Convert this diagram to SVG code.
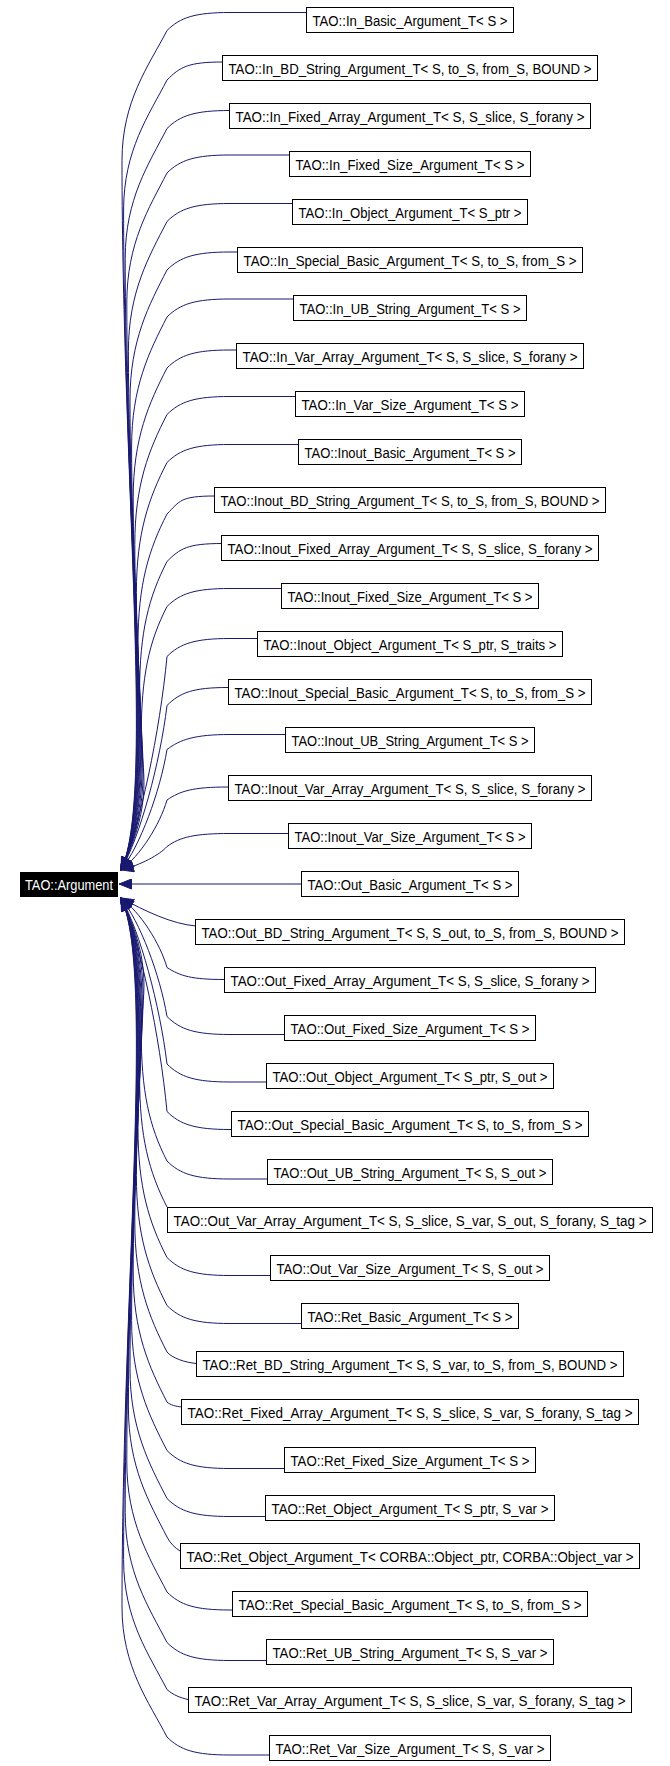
<svg xmlns="http://www.w3.org/2000/svg" width="670" height="1766" viewBox="0 0 670 1766">
<style>
.node rect{fill:#ffffff;stroke:#000000;stroke-width:1}
.node text{font-family:"Liberation Sans",Arial,sans-serif;font-size:14px;text-anchor:middle;fill:#000000}
.edge{fill:none;stroke:#191970;stroke-width:1}
</style>
<defs>
<marker id="arr" markerUnits="userSpaceOnUse" markerWidth="14" markerHeight="11" viewBox="0 0 14 11" refX="13" refY="5.5" orient="auto">
<path d="M0.5,0.5 L13,5.5 L0.5,10.5 z" fill="#191970" stroke="#191970"/>
</marker>
</defs>
<rect width="670" height="1766" fill="#ffffff"/>
<g id="edges" marker-end="url(#arr)">
<path class="edge" marker-end="url(#arr)" d="M307,12.5 L230,12.5 C195,12.5 180,17.5 167,30.5 c-18,35 -45,70 -45,130 C122,480 155,800 121,870"/>
<path class="edge" marker-end="url(#arr)" d="M223,62 C188,62 180,67 167,80 c-18,35 -43.4,70 -43.4,130 C123.6,505 155,800 121,870"/>
<path class="edge" marker-end="url(#arr)" d="M230,110.5 C195,110.5 180,115.5 167,128.5 c-18,35 -41.8,70 -41.8,130 C125.2,529 155,800 121,870"/>
<path class="edge" marker-end="url(#arr)" d="M290,155 L230,155 C195,155 180,160 167,173 c-18,35 -40.2,70 -40.2,130 C126.8,551.5 155,800 121,870"/>
<path class="edge" marker-end="url(#arr)" d="M292.5,203.5 L230,203.5 C195,203.5 180,208.5 167,221.5 c-18,35 -38.6,70 -38.6,130 C128.4,576 155,800 121,870"/>
<path class="edge" marker-end="url(#arr)" d="M238,252 L230,252 C195,252 180,257 167,270 c-18,35 -37,70 -37,130 C130,600 155,800 121,870"/>
<path class="edge" marker-end="url(#arr)" d="M294,299 L230,299 C195,299 180,304 167,317 c-18,35 -35.4,70 -35.4,130 C131.6,623.5 155,800 121,870"/>
<path class="edge" marker-end="url(#arr)" d="M236,350 L230,350 C195,350 180,355 167,368 c-18,35 -33.8,70 -33.8,130 C133.2,649 155,800 121,870"/>
<path class="edge" marker-end="url(#arr)" d="M296,396.5 L230,396.5 C195,396.5 180,401.5 167,414.5 c-18,35 -32.2,70 -32.2,130 C134.8,672 155,800 121,870"/>
<path class="edge" marker-end="url(#arr)" d="M299,444.5 L230,444.5 C195,444.5 180,449.5 167,462.5 c-18,35 -30.6,70 -30.6,130 C136.4,696 155,800 121,870"/>
<path class="edge" marker-end="url(#arr)" d="M215,496 C180,496 180,501 167,514 c-18,35 -29,70 -29,130 C138,722 155,800 121,870"/>
<path class="edge" marker-end="url(#arr)" d="M222.5,543.5 C187.5,543.5 180,548.5 167,561.5 c-18,35 -27.4,70 -27.4,130 C139.6,746 155,800 121,870"/>
<path class="edge" marker-end="url(#arr)" d="M282,588.5 L230,588.5 C195,588.5 180,593.5 167,606.5 c-18,35 -25.8,70 -25.8,130 C141.2,768 155,800 121,870"/>
<path class="edge" marker-end="url(#arr)" d="M258,638.5 L230,638.5 C195,638.5 180,643.5 167,656.5 C160,731 140,827 121,870"/>
<path class="edge" marker-end="url(#arr)" d="M228,687.5 C193,687.5 180,692.5 167,705.5 C160,763 140,837 121,870"/>
<path class="edge" marker-end="url(#arr)" d="M286,734.5 L230,734.5 C195,734.5 180,739.5 167,749.5 C160,792 140,846 121,870"/>
<path class="edge" marker-end="url(#arr)" d="M228,787 C193,787 180,791 167,800 C160,824.5 140,856 121,870"/>
<path class="edge" marker-end="url(#arr)" d="M288,833.5 L230,833.5 C195,833.5 180,837 167,846.5 C160,854.7 140,865.3 121,870"/>
<path class="edge" marker-end="url(#arr)" d="M302,884 L119,884"/>
<path class="edge" marker-end="url(#arr)" d="M196,926 C172,924 145,911 121,898"/>
<path class="edge" marker-end="url(#arr)" d="M224,979.5 C192,979.5 180,976 167,967.5 C160,943 140,912 121,898"/>
<path class="edge" marker-end="url(#arr)" d="M284,1034.5 L230,1034.5 C195,1034.5 180,1029.5 167,1016.5 C160,975 140,921.7 121,898"/>
<path class="edge" marker-end="url(#arr)" d="M267.5,1082 L230,1082 C195,1082 180,1077 167,1064 C160,1006 140,931 121,898"/>
<path class="edge" marker-end="url(#arr)" d="M232,1129.5 L230,1129.5 C195,1129.5 180,1124.5 167,1111.5 C160,1037 140,941 121,898"/>
<path class="edge" marker-end="url(#arr)" d="M267.5,1179 L230,1179 C195,1179 180,1174 167,1161 c-18,-35 -25.8,-70 -25.8,-130 C141.2,999.5 155,968 121,898"/>
<path class="edge" marker-end="url(#arr)" d="M167,1207 c-18,-35 -27.4,-70 -27.4,-130 C139.6,1022.5 155,968 121,898"/>
<path class="edge" marker-end="url(#arr)" d="M271.5,1275.5 L230,1275.5 C195,1275.5 180,1270.5 167,1257.5 c-18,-35 -29,-70 -29,-130 C138,1048 155,968 121,898"/>
<path class="edge" marker-end="url(#arr)" d="M302,1323.5 L230,1323.5 C195,1323.5 180,1318.5 167,1305.5 c-18,-35 -30.6,-70 -30.6,-130 C136.4,1072 155,968 121,898"/>
<path class="edge" marker-end="url(#arr)" d="M196.5,1363.5 C185,1362.5 172,1358 167,1352 c-18,-35 -32.2,-70 -32.2,-130 C134.8,1095 155,968 121,898"/>
<path class="edge" marker-end="url(#arr)" d="M182,1407 C176,1406.5 170,1405 167,1402 c-18,-35 -33.8,-70 -33.8,-130 C133.2,1120 155,968 121,898"/>
<path class="edge" marker-end="url(#arr)" d="M284,1468.5 L230,1468.5 C195,1468.5 180,1463.5 167,1450.5 c-18,-35 -35.4,-70 -35.4,-130 C131.6,1144 155,968 121,898"/>
<path class="edge" marker-end="url(#arr)" d="M266,1516.5 L230,1516.5 C195,1516.5 180,1511.5 167,1498.5 c-18,-35 -37,-70 -37,-130 C130,1168 155,968 121,898"/>
<path class="edge" marker-end="url(#arr)" d="M180,1551 C175,1548 170,1543 167,1537 c-18,-35 -38.6,-70 -38.6,-130 C128.4,1187.5 155,968 121,898"/>
<path class="edge" marker-end="url(#arr)" d="M232,1610 L230,1610 C195,1610 180,1605 167,1592 c-18,-35 -40.2,-70 -40.2,-130 C126.8,1215 155,968 121,898"/>
<path class="edge" marker-end="url(#arr)" d="M267,1660.5 L230,1660.5 C195,1660.5 180,1655.5 167,1642.5 c-18,-35 -41.8,-70 -41.8,-130 C125.2,1240 155,968 121,898"/>
<path class="edge" marker-end="url(#arr)" d="M188,1699.5 C181,1698 173,1695 167,1689.5 c-18,-35 -43.4,-70 -43.4,-130 C123.6,1264 155,968 121,898"/>
<path class="edge" marker-end="url(#arr)" d="M270,1755 L230,1755 C195,1755 180,1750 167,1737 c-18,-35 -45,-70 -45,-130 C122,1287.5 155,968 121,898"/>
</g>
<g id="argument">
<rect x="20.5" y="872.5" width="97" height="24" fill="#000000" stroke="#000000"/>
<text x="69" y="890" font-family="Liberation Sans, Arial, sans-serif" font-size="14" text-anchor="middle" fill="#ffffff" textLength="88" lengthAdjust="spacingAndGlyphs">TAO::Argument</text>
</g>
<g id="n0" class="node"><rect x="306.5" y="7.5" width="207" height="25"/><text x="410" y="26" textLength="195" lengthAdjust="spacingAndGlyphs">TAO::In_Basic_Argument_T&lt; S &gt;</text></g>
<g id="n1" class="node"><rect x="222.5" y="55.5" width="375" height="25"/><text x="410" y="74" textLength="363" lengthAdjust="spacingAndGlyphs">TAO::In_BD_String_Argument_T&lt; S, to_S, from_S, BOUND &gt;</text></g>
<g id="n2" class="node"><rect x="229.5" y="103.5" width="361" height="25"/><text x="410" y="122" textLength="349" lengthAdjust="spacingAndGlyphs">TAO::In_Fixed_Array_Argument_T&lt; S, S_slice, S_forany &gt;</text></g>
<g id="n3" class="node"><rect x="289.5" y="151.5" width="241" height="25"/><text x="410" y="170" textLength="229" lengthAdjust="spacingAndGlyphs">TAO::In_Fixed_Size_Argument_T&lt; S &gt;</text></g>
<g id="n4" class="node"><rect x="292.5" y="199.5" width="235" height="25"/><text x="410" y="218" textLength="223" lengthAdjust="spacingAndGlyphs">TAO::In_Object_Argument_T&lt; S_ptr &gt;</text></g>
<g id="n5" class="node"><rect x="237.5" y="247.5" width="345" height="25"/><text x="410" y="266" textLength="333" lengthAdjust="spacingAndGlyphs">TAO::In_Special_Basic_Argument_T&lt; S, to_S, from_S &gt;</text></g>
<g id="n6" class="node"><rect x="293.5" y="295.5" width="233" height="25"/><text x="410" y="314" textLength="221" lengthAdjust="spacingAndGlyphs">TAO::In_UB_String_Argument_T&lt; S &gt;</text></g>
<g id="n7" class="node"><rect x="236.5" y="343.5" width="347" height="25"/><text x="410" y="362" textLength="335" lengthAdjust="spacingAndGlyphs">TAO::In_Var_Array_Argument_T&lt; S, S_slice, S_forany &gt;</text></g>
<g id="n8" class="node"><rect x="295.5" y="391.5" width="229" height="25"/><text x="410" y="410" textLength="217" lengthAdjust="spacingAndGlyphs">TAO::In_Var_Size_Argument_T&lt; S &gt;</text></g>
<g id="n9" class="node"><rect x="298.5" y="439.5" width="223" height="25"/><text x="410" y="458" textLength="211" lengthAdjust="spacingAndGlyphs">TAO::Inout_Basic_Argument_T&lt; S &gt;</text></g>
<g id="n10" class="node"><rect x="214.5" y="487.5" width="391" height="25"/><text x="410" y="506" textLength="379" lengthAdjust="spacingAndGlyphs">TAO::Inout_BD_String_Argument_T&lt; S, to_S, from_S, BOUND &gt;</text></g>
<g id="n11" class="node"><rect x="221.5" y="535.5" width="377" height="25"/><text x="410" y="554" textLength="365" lengthAdjust="spacingAndGlyphs">TAO::Inout_Fixed_Array_Argument_T&lt; S, S_slice, S_forany &gt;</text></g>
<g id="n12" class="node"><rect x="281.5" y="583.5" width="257" height="25"/><text x="410" y="602" textLength="245" lengthAdjust="spacingAndGlyphs">TAO::Inout_Fixed_Size_Argument_T&lt; S &gt;</text></g>
<g id="n13" class="node"><rect x="257.5" y="631.5" width="305" height="25"/><text x="410" y="650" textLength="293" lengthAdjust="spacingAndGlyphs">TAO::Inout_Object_Argument_T&lt; S_ptr, S_traits &gt;</text></g>
<g id="n14" class="node"><rect x="228.5" y="679.5" width="363" height="25"/><text x="410" y="698" textLength="351" lengthAdjust="spacingAndGlyphs">TAO::Inout_Special_Basic_Argument_T&lt; S, to_S, from_S &gt;</text></g>
<g id="n15" class="node"><rect x="285.5" y="727.5" width="249" height="25"/><text x="410" y="746" textLength="237" lengthAdjust="spacingAndGlyphs">TAO::Inout_UB_String_Argument_T&lt; S &gt;</text></g>
<g id="n16" class="node"><rect x="228.5" y="775.5" width="363" height="25"/><text x="410" y="794" textLength="351" lengthAdjust="spacingAndGlyphs">TAO::Inout_Var_Array_Argument_T&lt; S, S_slice, S_forany &gt;</text></g>
<g id="n17" class="node"><rect x="288.5" y="823.5" width="243" height="25"/><text x="410" y="842" textLength="231" lengthAdjust="spacingAndGlyphs">TAO::Inout_Var_Size_Argument_T&lt; S &gt;</text></g>
<g id="n18" class="node"><rect x="301.5" y="871.5" width="217" height="25"/><text x="410" y="890" textLength="205" lengthAdjust="spacingAndGlyphs">TAO::Out_Basic_Argument_T&lt; S &gt;</text></g>
<g id="n19" class="node"><rect x="195.5" y="919.5" width="429" height="25"/><text x="410" y="938" textLength="417" lengthAdjust="spacingAndGlyphs">TAO::Out_BD_String_Argument_T&lt; S, S_out, to_S, from_S, BOUND &gt;</text></g>
<g id="n20" class="node"><rect x="224.5" y="967.5" width="371" height="25"/><text x="410" y="986" textLength="359" lengthAdjust="spacingAndGlyphs">TAO::Out_Fixed_Array_Argument_T&lt; S, S_slice, S_forany &gt;</text></g>
<g id="n21" class="node"><rect x="284.5" y="1015.5" width="251" height="25"/><text x="410" y="1034" textLength="239" lengthAdjust="spacingAndGlyphs">TAO::Out_Fixed_Size_Argument_T&lt; S &gt;</text></g>
<g id="n22" class="node"><rect x="266.5" y="1063.5" width="287" height="25"/><text x="410" y="1082" textLength="275" lengthAdjust="spacingAndGlyphs">TAO::Out_Object_Argument_T&lt; S_ptr, S_out &gt;</text></g>
<g id="n23" class="node"><rect x="231.5" y="1111.5" width="357" height="25"/><text x="410" y="1130" textLength="345" lengthAdjust="spacingAndGlyphs">TAO::Out_Special_Basic_Argument_T&lt; S, to_S, from_S &gt;</text></g>
<g id="n24" class="node"><rect x="267.5" y="1159.5" width="285" height="25"/><text x="410" y="1178" textLength="273" lengthAdjust="spacingAndGlyphs">TAO::Out_UB_String_Argument_T&lt; S, S_out &gt;</text></g>
<g id="n25" class="node"><rect x="167.5" y="1207.5" width="485" height="25"/><text x="410" y="1226" textLength="473" lengthAdjust="spacingAndGlyphs">TAO::Out_Var_Array_Argument_T&lt; S, S_slice, S_var, S_out, S_forany, S_tag &gt;</text></g>
<g id="n26" class="node"><rect x="270.5" y="1255.5" width="279" height="25"/><text x="410" y="1274" textLength="267" lengthAdjust="spacingAndGlyphs">TAO::Out_Var_Size_Argument_T&lt; S, S_out &gt;</text></g>
<g id="n27" class="node"><rect x="301.5" y="1303.5" width="217" height="25"/><text x="410" y="1322" textLength="205" lengthAdjust="spacingAndGlyphs">TAO::Ret_Basic_Argument_T&lt; S &gt;</text></g>
<g id="n28" class="node"><rect x="196.5" y="1351.5" width="427" height="25"/><text x="410" y="1370" textLength="415" lengthAdjust="spacingAndGlyphs">TAO::Ret_BD_String_Argument_T&lt; S, S_var, to_S, from_S, BOUND &gt;</text></g>
<g id="n29" class="node"><rect x="181.5" y="1399.5" width="457" height="25"/><text x="410" y="1418" textLength="445" lengthAdjust="spacingAndGlyphs">TAO::Ret_Fixed_Array_Argument_T&lt; S, S_slice, S_var, S_forany, S_tag &gt;</text></g>
<g id="n30" class="node"><rect x="284.5" y="1447.5" width="251" height="25"/><text x="410" y="1466" textLength="239" lengthAdjust="spacingAndGlyphs">TAO::Ret_Fixed_Size_Argument_T&lt; S &gt;</text></g>
<g id="n31" class="node"><rect x="265.5" y="1495.5" width="289" height="25"/><text x="410" y="1514" textLength="277" lengthAdjust="spacingAndGlyphs">TAO::Ret_Object_Argument_T&lt; S_ptr, S_var &gt;</text></g>
<g id="n32" class="node"><rect x="180.5" y="1543.5" width="459" height="25"/><text x="410" y="1562" textLength="447" lengthAdjust="spacingAndGlyphs">TAO::Ret_Object_Argument_T&lt; CORBA::Object_ptr, CORBA::Object_var &gt;</text></g>
<g id="n33" class="node"><rect x="232.5" y="1591.5" width="355" height="25"/><text x="410" y="1610" textLength="343" lengthAdjust="spacingAndGlyphs">TAO::Ret_Special_Basic_Argument_T&lt; S, to_S, from_S &gt;</text></g>
<g id="n34" class="node"><rect x="266.5" y="1639.5" width="287" height="25"/><text x="410" y="1658" textLength="275" lengthAdjust="spacingAndGlyphs">TAO::Ret_UB_String_Argument_T&lt; S, S_var &gt;</text></g>
<g id="n35" class="node"><rect x="188.5" y="1687.5" width="443" height="25"/><text x="410" y="1706" textLength="431" lengthAdjust="spacingAndGlyphs">TAO::Ret_Var_Array_Argument_T&lt; S, S_slice, S_var, S_forany, S_tag &gt;</text></g>
<g id="n36" class="node"><rect x="269.5" y="1735.5" width="281" height="25"/><text x="410" y="1754" textLength="269" lengthAdjust="spacingAndGlyphs">TAO::Ret_Var_Size_Argument_T&lt; S, S_var &gt;</text></g>
</svg>
